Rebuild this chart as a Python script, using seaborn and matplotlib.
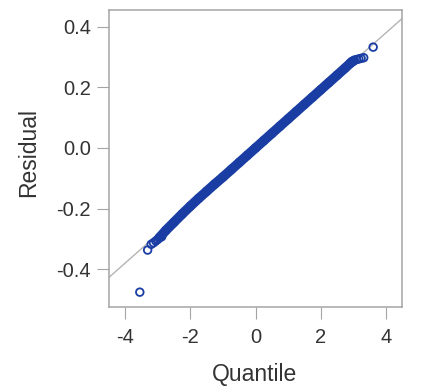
import matplotlib
matplotlib.use("Agg")
import matplotlib.pyplot as plt
import seaborn as sns
import pandas as pd

# ---- data ----
# dense central band of the normal Q-Q plot (quantile, residual)
band_quantile = [-2.95, -2.75, -2.50, -2.25, -2.00, -1.75, -1.50, -1.25, -1.00,
                 -0.75, -0.50, -0.25, 0.00, 0.25, 0.50, 0.75, 1.00, 1.25,
                 1.50, 1.75, 2.00, 2.25, 2.50, 2.75, 2.90, 3.00]
band_residual = [-0.296, -0.272, -0.245, -0.218, -0.192, -0.167, -0.143, -0.119, -0.096,
                 -0.072, -0.048, -0.024, 0.000, 0.024, 0.048, 0.072, 0.096, 0.120,
                 0.144, 0.168, 0.192, 0.216, 0.240, 0.264, 0.279, 0.287]
# individually visible tail points
tail_quantile = [-3.55, -3.31, -3.20, -3.13, -3.06, -3.00, -2.88,
                 2.95, 3.03, 3.10, 3.17, 3.24, 3.32, 3.61]
tail_residual = [-0.476, -0.337, -0.318, -0.313, -0.307, -0.302, -0.293,
                 0.285, 0.290, 0.292, 0.294, 0.296, 0.298, 0.333]
# reference line: residual = mu + sigma * quantile
line_quantile = [-4.6, 4.6]
line_mu = 0.0
line_sigma = 0.095
x_ticks = [-4, -2, 0, 2, 4]
y_ticks = [-0.4, -0.2, 0.0, 0.2, 0.4]

sns.set_theme(style="white")
plt.rcParams['font.family'] = ['Liberation Sans', 'DejaVu Sans']

mark_color = "#1a3da3"
frame_color = "#a4a4a4"
text_color = "#333333"

fig = plt.figure(figsize=(4.35, 3.88), dpi=100)
ax = fig.add_axes([109.5 / 435, 1 - 307 / 388, 292 / 435, 297 / 388])

line_df = pd.DataFrame({"q": line_quantile,
                        "r": [line_mu + line_sigma * q for q in line_quantile]})
sns.lineplot(data=line_df, x="q", y="r", ax=ax, color="#b4b4b4", linewidth=1.0,
             zorder=1)

band_df = pd.DataFrame({"q": band_quantile, "r": band_residual})
sns.lineplot(data=band_df, x="q", y="r", ax=ax, color=mark_color, linewidth=7.0,
             solid_capstyle="round", zorder=2, sort=False)
sns.scatterplot(data=band_df, x="q", y="r", ax=ax, marker="o", s=30,
                facecolors="none", edgecolor=mark_color, linewidth=1.3, zorder=3)

tail_df = pd.DataFrame({"q": tail_quantile, "r": tail_residual})
sns.scatterplot(data=tail_df, x="q", y="r", ax=ax, marker="o", s=30,
                facecolors="none", edgecolor=mark_color, linewidth=1.3, zorder=3)

ax.set_xlim(-4.48, 4.48)
ax.set_ylim(-0.525, 0.4556)
ax.set_xticks(x_ticks)
ax.set_xticklabels([str(t) for t in x_ticks])
ax.set_yticks(y_ticks)
ax.set_yticklabels([f"{t:.1f}" for t in y_ticks])

for s in ax.spines.values():
    s.set_color(frame_color)
    s.set_linewidth(1.1)
    s.set_visible(True)

ax.tick_params(axis="both", which="major", length=8.3, width=0.8, color=frame_color,
               labelcolor=text_color, labelsize=14.5, direction="out")
ax.tick_params(axis="x", pad=6.5, bottom=True)
ax.tick_params(axis="y", pad=5, left=True)

ax.set_xlabel("Quantile", fontsize=16.5, color=text_color)
ax.set_ylabel("Residual", fontsize=16.5, color=text_color)
ax.xaxis.set_label_coords(0.498, -0.189)
ax.yaxis.set_label_coords(-0.238, 0.52)

fig.savefig("out.png", dpi=100)
